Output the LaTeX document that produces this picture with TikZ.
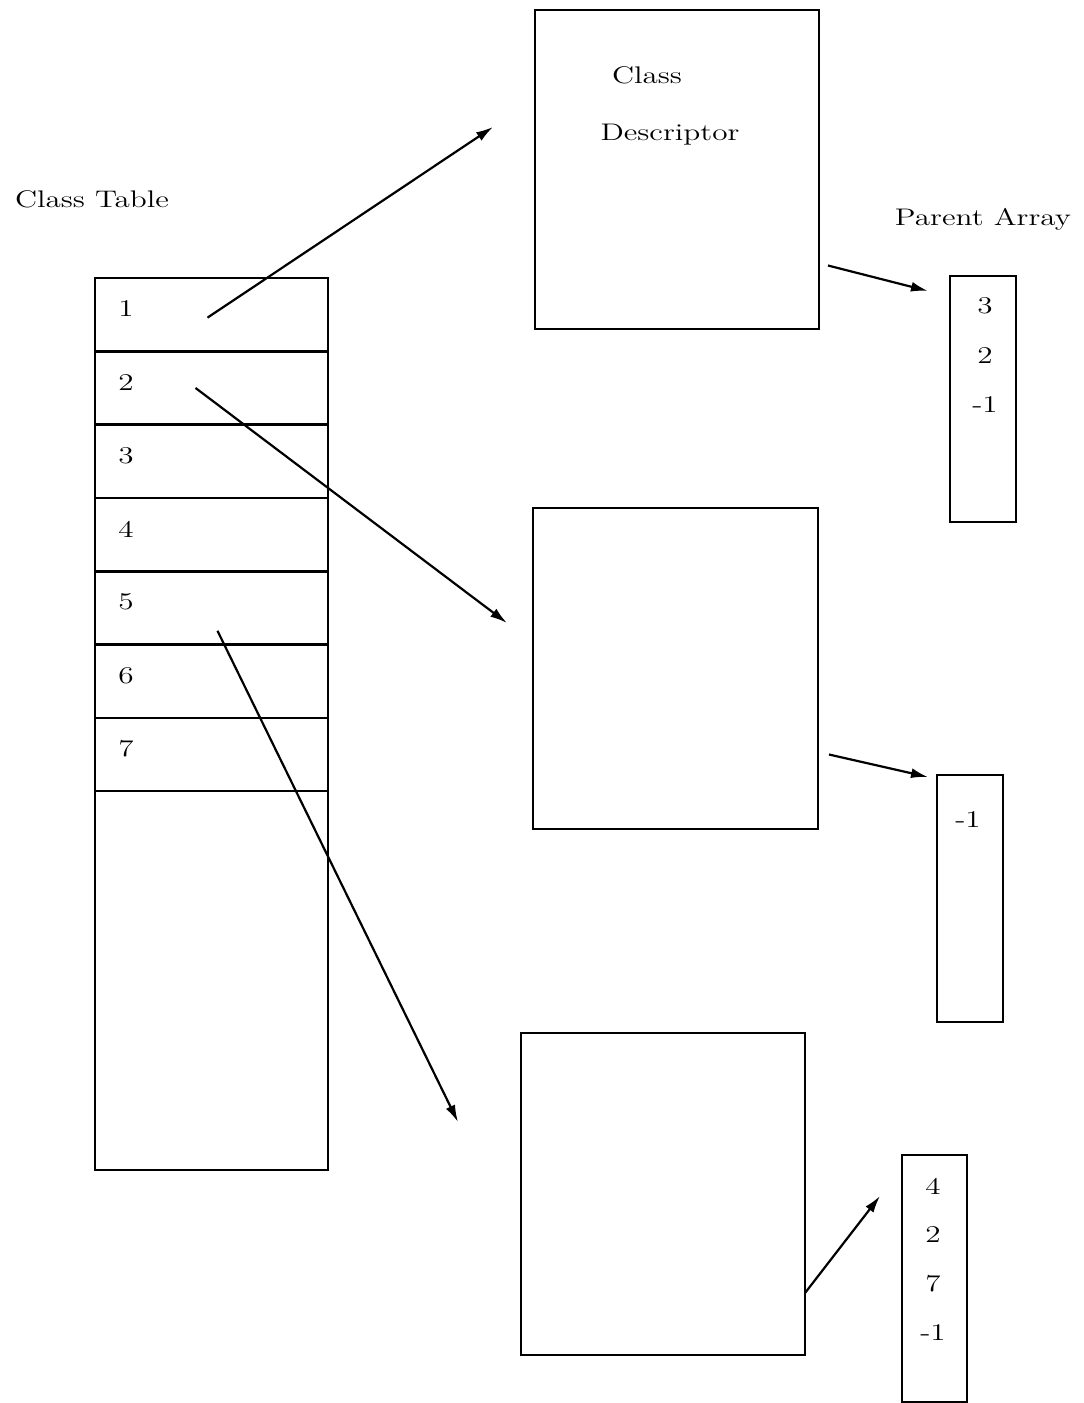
\documentclass[tikz,border=0pt]{standalone}
\usepackage{graphicx}
\usepackage{tikz}
\usetikzlibrary{arrows.meta,positioning}

% old typewriter-like wide lettering
\newcommand{\wide}[1]{\scalebox{1.3}[1]{#1}}

\begin{document}
\begin{tikzpicture}[
        x=0.5pt, y=-0.5pt,
        cell/.style={
            rectangle, draw = black, line width = 1.3pt, inner sep = 0pt, outer sep = 0pt, anchor = north west
        },
        txt/.style={
            font = \fontsize{12}{14}\selectfont, inner sep = 0pt
        },
        ptr/.style={
            line width = 1.1pt, -{Latex[length=8.5pt,width=5pt]}
        },
    ]
    \useasboundingbox (0,0) rectangle (1083,1403);

    % class table
    \node (tableTitle) [txt] at (92,199) {\wide{Class Table}};
    \foreach \i in {1,...,7} {
        \node (row\i) [cell, minimum width=116.5pt, minimum height=36.65pt] at (95,{278+73.3*(\i-1)}) {};
        \node (rowNum\i) [txt] at (126,{309+73.3*(\i-1)}) {\wide{\i}};
    }
    \node (rowRest) [cell, minimum width=116.5pt, minimum height=189.5pt] at (95,791) {};

    % class descriptors
    \node (descA) [cell, minimum width=142pt, minimum height=159.5pt] at (535,10) {};
    \node (descTitle) [txt] at (647,75) {\wide{Class}};
    \node (descTitleB) [txt] at (670,135) {\wide{Descriptor}};
    \node (descB) [cell, minimum width=142.5pt, minimum height=160.5pt] at (533,508) {};
    \node (descC) [cell, minimum width=142pt, minimum height=161pt] at (521,1033) {};

    % parent arrays
    \node (parentTitle) [txt] at (983,219) {\wide{Parent Array}};
    \node (parentA) [cell, minimum width=33pt, minimum height=123pt] at (950,276) {};
    \foreach \v [count=\k] in {3,2,-1}
        \node (parentA\k) [txt] at (985,{306+49.5*(\k-1)}) {\wide{\v}};
    \node (parentB) [cell, minimum width=33pt, minimum height=123.5pt] at (937,775) {};
    \node (parentB1) [txt] at (968,820) {\wide{-1}};
    \node (parentC) [cell, minimum width=32.5pt, minimum height=123.5pt] at (902,1155) {};
    \foreach \v [count=\k] in {4,2,7,-1}
        \node (parentC\k) [txt] at (933,{1186+49*(\k-1)}) {\wide{\v}};

    % pointer ends
    \coordinate (tipA) at (493,127);
    \coordinate (tipB) at (507,623);
    \coordinate (tipC) at (458,1122);
    \coordinate (tipPA) at (928,291);
    \coordinate (tipPB) at (928,777);
    \coordinate (tipPC) at (880,1196);

    \draw[ptr] ([shift={(-2pt,-1.5pt)}]row1.center) -- (tipA);
    \draw[ptr] ([xshift=-8pt]row2.center) -- (tipB);
    \draw[ptr] ([shift={(3pt,-11.5pt)}]row5.center) -- (tipC);
    \draw[ptr] ([shift={(4.5pt,-48pt)}]descA.east) -- (tipPA);
    \draw[ptr] ([shift={(5.5pt,-43pt)}]descB.east) -- (tipPB);
    \draw[ptr] ([yshift=-49.5pt]descC.east) -- (tipPC);

\end{tikzpicture}
\end{document}
